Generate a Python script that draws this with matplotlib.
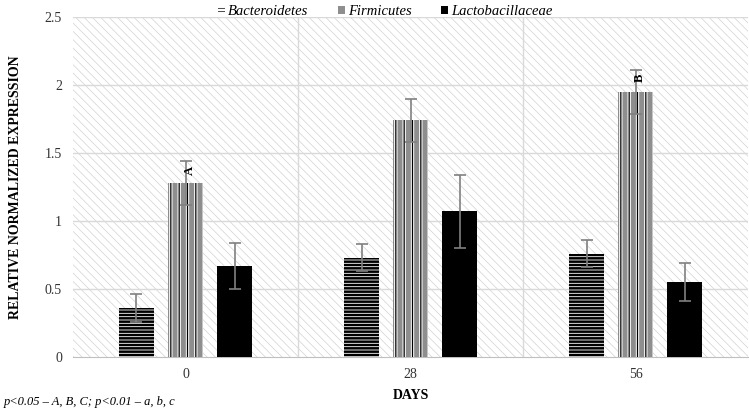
import matplotlib
matplotlib.use("Agg")
import matplotlib.pyplot as plt
import numpy as np
from matplotlib.patches import Rectangle

days = ["0", "28", "56"]
series = ["Bacteroidetes", "Firmicutes", "Lactobacillaceae"]
bacteroidetes = [0.36, 0.73, 0.76]
bacteroidetes_err = [0.105, 0.10, 0.10]
firmicutes = [1.28, 1.74, 1.95]
firmicutes_err = [0.16, 0.16, 0.16]
lacto = [0.67, 1.07, 0.55]
lacto_err = [0.17, 0.27, 0.14]
# significance letters: (day index, letter, y)
sig_letters = [(0, "A", 1.37), (2, "B", 2.05)]
footnote = "p<0.05 – A, B, C; p<0.01 – a, b, c"

plt.rcParams['font.family'] = ['Liberation Serif', 'DejaVu Serif']
plt.rcParams['hatch.linewidth'] = 0.5


def hatch_lw(container, lw):
    for p in container.patches:
        if hasattr(p, 'set_hatch_linewidth'):
            p.set_hatch_linewidth(lw)


fig = plt.figure(figsize=(7.49, 4.12), dpi=100)
ax = fig.add_axes([0.0975, 0.1335, 0.9015, 0.8252])

# hatched background
bg = Rectangle((0, 0), 1, 1, transform=ax.transAxes, facecolor='white',
               edgecolor='#d2d2d2', hatch='\\\\\\\\', linewidth=0, zorder=0)
ax.add_patch(bg)

x = np.arange(len(days))
width = 0.155
step = 0.218
ekw = dict(ecolor='#808080', elinewidth=1.2, capsize=4, capthick=1.2, zorder=6)

b1 = ax.bar(x - step, bacteroidetes, width=width, yerr=bacteroidetes_err, error_kw=ekw,
            facecolor='white', edgecolor='black', hatch='-----', linewidth=0, zorder=3)
hatch_lw(b1, 1.8)

# firmicutes: gray with white bands and thin black lines
b2a = ax.bar(x, firmicutes, width=width, facecolor='#8e8e8e', edgecolor='white',
             hatch='||', linewidth=0, zorder=3)
hatch_lw(b2a, 2.4)
b2b = ax.bar(x, firmicutes, width=width, yerr=firmicutes_err, error_kw=ekw,
             facecolor='none', edgecolor='black', hatch='||', linewidth=0, zorder=4)
hatch_lw(b2b, 0.9)

b3 = ax.bar(x + step, lacto, width=width, yerr=lacto_err, error_kw=ekw,
            facecolor='black', edgecolor='black', linewidth=0, zorder=3)

for idx, letter, y in sig_letters:
    ax.text(x[idx] + 0.02, y, letter, rotation=90, ha='center', va='center',
            fontsize=9, fontweight='bold', zorder=7)

ax.set_xlim(-0.5, 2.5)
ax.set_ylim(0, 2.5)
ax.set_yticks([0, 0.5, 1, 1.5, 2, 2.5])
ax.set_yticklabels(["0", "0.5", "1", "1.5", "2", "2.5"])
ax.set_xticks(x)
ax.set_xticklabels(days)
ax.tick_params(length=0, labelsize=10, colors='#333333', pad=8)
ax.set_facecolor('white')

for yv in [0.5, 1, 1.5, 2, 2.5]:
    ax.axhline(yv, color='#d9d9d9', linewidth=1, zorder=1)
for xv in [0.5, 1.5]:
    ax.axvline(xv, color='#d9d9d9', linewidth=1, zorder=1)

for s in ['top', 'right', 'left']:
    ax.spines[s].set_visible(False)
ax.spines['bottom'].set_color('#bfbfbf')

ax.set_xlabel("DAYS", fontsize=10, fontweight='bold', labelpad=6)
ax.set_ylabel("RELATIVE NORMALIZED EXPRESSION", fontsize=10, fontweight='bold', labelpad=16)

fig.legend(handles=[b1, (b2a, b2b), b3], labels=series, loc='upper center',
           bbox_to_anchor=(0.514, 1.02), ncol=3, frameon=False,
           prop=dict(style='italic', size=10.5),
           handlelength=0.5, handleheight=0.5, handletextpad=0.2, columnspacing=2.0)

fig.text(0.005, 0.018, footnote, fontsize=9, style='italic')

plt.savefig("out.png", dpi=100)
plt.close()
